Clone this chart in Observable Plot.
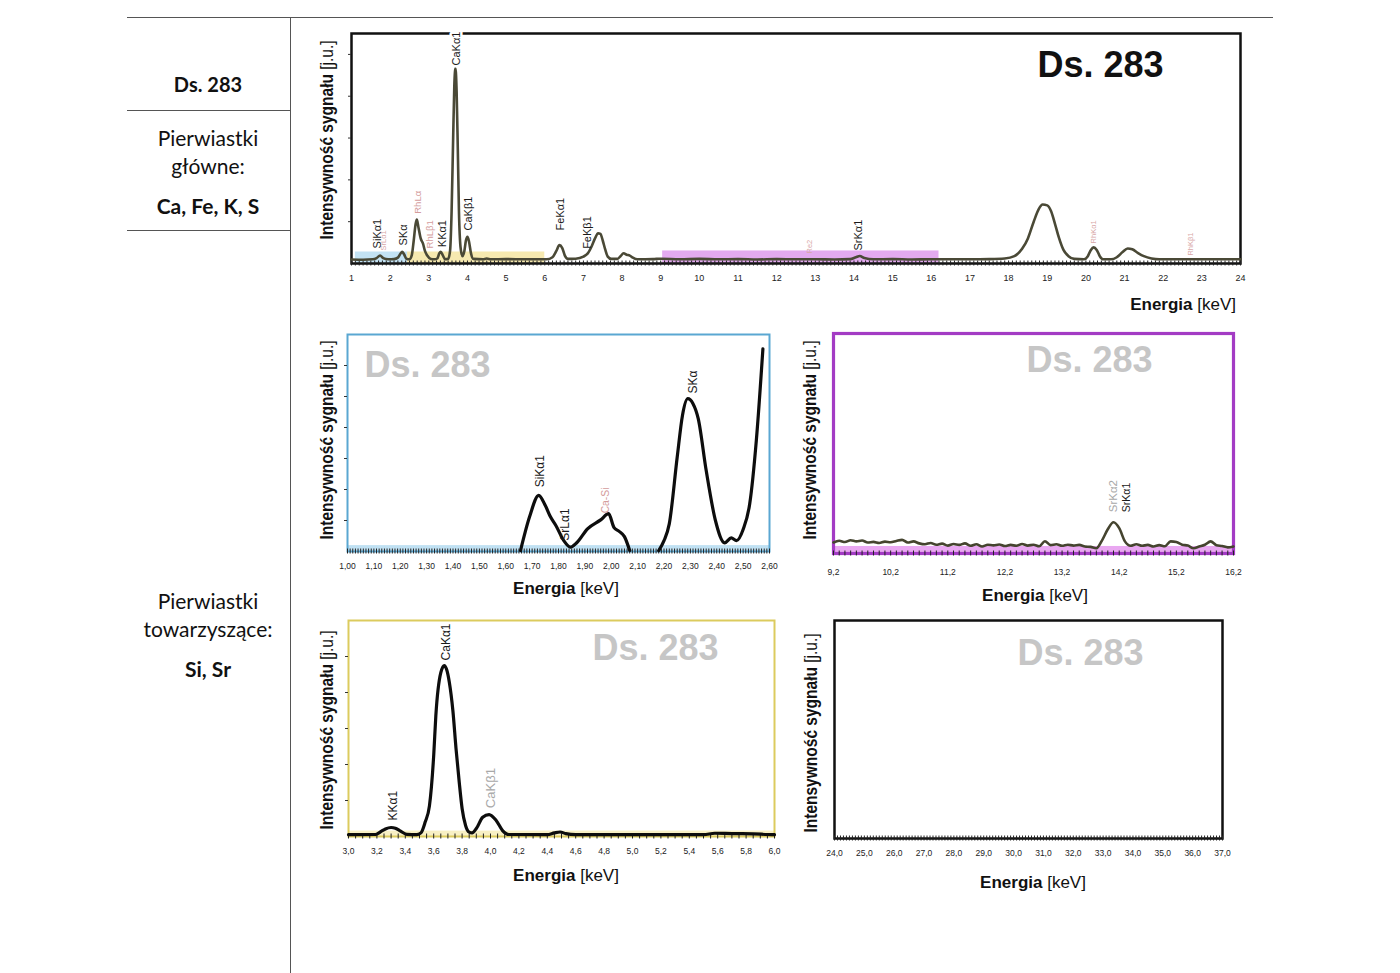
<!DOCTYPE html>
<html>
<head>
<meta charset="utf-8">
<script src="https://cdn.jsdelivr.net/npm/d3@7"></script>
<script src="https://cdn.jsdelivr.net/npm/@observablehq/plot@0.6"></script>
<style>
  body { margin: 0; background: #fff; }
  #page { position: relative; width: 1400px; height: 973px; overflow: hidden; background: #fff;
          font-family: "Liberation Sans", Arial, sans-serif; color: #111; }
  .t { position: absolute; white-space: nowrap; transform: translate(-50%, -50%); }
  .tr { position: absolute; white-space: nowrap; transform: translate(-100%, -50%); }
  .tbl { font-family: Lato, "Open Sans", sans-serif; font-size: 21px; color: #111; }
  .tbl b { font-weight: 700; }
  .rule { position: absolute; background: #555; }
  .ylab { position: absolute; white-space: nowrap; transform: translate(-50%, -50%) rotate(-90deg) scale(0.94, 1.08);
          font-size: 16.5px; color: #111; font-family: "Liberation Sans", Arial, sans-serif; }
  .xlab { font-size: 17px; color: #111; font-family: "Liberation Sans", Arial, sans-serif; }
  svg { position: absolute; overflow: visible; }
</style>
</head>
<body>
<div id="page"></div>
<script>
// ---------------- data ----------------
// Overview spectrum 1–24 keV: [energy keV, intensity a.u.]
const overviewSpectrum = [
  [1.00,1.9],[1.30,1.8],[1.55,2.0],[1.65,2.6],[1.74,3.8],[1.82,2.6],[1.95,2.0],[2.10,2.1],[2.20,2.8],
  [2.27,4.8],[2.31,5.6],[2.36,4.4],[2.42,2.3],[2.50,2.0],[2.56,4.0],[2.61,11],[2.66,19],[2.69,21],
  [2.73,17.5],[2.79,12],[2.85,9.5],[2.90,6],[2.96,3.8],[3.05,2.2],[3.15,2.0],[3.22,2.4],[3.27,4.8],
  [3.31,5.6],[3.36,4.0],[3.42,2.1],[3.50,2.2],[3.55,6],[3.59,25],[3.63,60],[3.66,85],[3.69,93.3],
  [3.72,82],[3.75,55],[3.78,25],[3.82,8],[3.87,3.5],[3.92,6],[3.96,11],[4.00,12.8],[4.04,10.5],
  [4.09,5],[4.15,2.2],[4.40,2.0],[4.50,2.4],[4.60,2.0],[5.00,2.1],[5.50,2.0],[6.05,2.0],[6.20,3.0],
  [6.30,6.0],[6.38,8.8],[6.45,7.5],[6.52,3.8],[6.60,2.2],[6.80,2.3],[7.00,3.3],[7.12,5],[7.22,8.5],
  [7.30,12],[7.38,14.5],[7.44,14.2],[7.50,11],[7.56,7],[7.63,3.3],[7.72,2.2],[7.88,2.2],[7.96,3.5],
  [8.04,4.9],[8.12,4.2],[8.20,3.8],[8.28,2.8],[8.40,2.0],[8.80,2.1],[9.00,2.3],[9.50,2.0],[10.0,2.2],
  [10.5,2.0],[11.0,2.1],[11.5,1.9],[12.0,2.1],[12.5,2.0],[13.0,2.0],[13.5,1.9],[13.9,2.1],[14.05,3.0],
  [14.15,3.6],[14.27,2.6],[14.5,2.0],[15.0,2.1],[15.5,1.9],[16.0,2.0],[16.5,2.0],[17.0,2.0],[17.5,2.1],
  [17.9,2.4],[18.15,3.5],[18.35,7],[18.5,12],[18.65,20],[18.78,26],[18.88,28.2],[19.0,27.8],[19.1,25],
  [19.2,19],[19.3,12.5],[19.42,6.5],[19.55,3.5],[19.7,2.2],[19.95,2.0],[20.05,3.5],[20.13,6.5],
  [20.2,7.7],[20.28,6.5],[20.36,3.5],[20.45,2.0],[20.65,2.0],[20.8,3],[20.95,5.5],[21.08,7.2],
  [21.2,6.8],[21.35,5.0],[21.5,3.5],[21.7,2.4],[21.9,2.0],[22.5,2.0],[23.0,2.0],[23.5,2.0],[24.0,2.0]
];
// energy windows highlighted in the overview: [from keV, to keV, height]
const windowSi = [1.1, 2.45, 5.5];
const windowCa = [2.45, 6.0, 5.5];
const windowSr = [9.05, 16.2, 6.0];

const overviewLabels = [
  {name: "SiKα1", e: 1.68, v: 7.2, kind: "el"},
  {name: "SrLα1", e: 1.84, v: 6.2, kind: "rhs"},
  {name: "SKα", e: 2.35, v: 8.6, kind: "el"},
  {name: "RhLα", e: 2.72, v: 23.8, kind: "rh"},
  {name: "RhLβ1", e: 3.03, v: 7.2, kind: "rh"},
  {name: "KKα1", e: 3.35, v: 7.8, kind: "el"},
  {name: "CaKα1", e: 3.71, v: 94.7, kind: "top"},
  {name: "CaKβ1", e: 4.035, v: 15.8, kind: "el"},
  {name: "FeKα1", e: 6.41, v: 15.8, kind: "el"},
  {name: "FeKβ1", e: 7.10, v: 7.0, kind: "el"},
  {name: "Re2", e: 12.85, v: 4.8, kind: "rhs"},
  {name: "SrKα1", e: 14.12, v: 6.2, kind: "el"},
  {name: "RhKα1", e: 20.2, v: 9.6, kind: "rhs"},
  {name: "RhKβ1", e: 22.71, v: 3.8, kind: "rhs"}
];

// Zoom 1.00–2.60 keV (Si / S region); NaN = curve below the axis
const siSpectrum = [
  [1.656,0.3],[1.69,11.1],[1.725,18.1],[1.75,14.8],[1.77,11.1],[1.79,8.4],[1.82,3.5],[1.845,1.4],
  [1.87,2.9],[1.91,7.3],[1.96,10.2],[1.99,12.2],[2.01,7.8],[2.03,6.5],[2.05,4.8],[2.07,0.3],
  [2.12,NaN],
  [2.18,0.3],[2.20,3.5],[2.22,8.9],[2.25,30.4],[2.27,43.9],[2.29,49.3],[2.31,47.7],[2.33,42.8],
  [2.36,26.1],[2.395,10],[2.43,2.8],[2.455,4.4],[2.475,3.5],[2.50,7.1],[2.525,15.4],[2.55,35.8],
  [2.575,65.4]
];
const siLabels = [
  {name: "SiKα1", e: 1.73, v: 20.7, kind: "el"},
  {name: "SrLα1", e: 1.826, v: 3.5, kind: "el"},
  {name: "Ca-Si", e: 1.98, v: 12.3, kind: "rh"},
  {name: "SKα", e: 2.31, v: 51, kind: "el"}
];

// Zoom 9.2–16.2 keV (Sr region)
const srSpectrum = [
  [9.2,5.0],[9.3,5.8],[9.4,5.2],[9.5,6.0],[9.6,5.5],[9.7,5.9],[9.8,5.0],[9.9,5.3],[10.0,4.8],[10.1,5.4],
  [10.2,5.1],[10.3,5.7],[10.4,6.2],[10.5,5.0],[10.6,5.5],[10.7,4.6],[10.8,4.2],[10.9,4.8],[11.0,4.0],
  [11.1,4.5],[11.2,3.6],[11.3,4.3],[11.4,3.9],[11.5,4.6],[11.6,3.5],[11.7,4.2],[11.8,3.2],[11.9,4.0],
  [12.0,3.7],[12.1,4.1],[12.2,3.4],[12.3,3.9],[12.4,3.5],[12.5,4.3],[12.6,3.6],[12.7,4.0],[12.8,3.3],
  [12.9,5.6],[13.0,3.8],[13.1,4.2],[13.2,3.5],[13.3,4.0],[13.4,3.6],[13.5,3.9],[13.6,3.2],[13.7,3.0],
  [13.8,2.4],[13.9,6.0],[14.0,11.0],[14.1,14.2],[14.2,11.5],[14.3,5.5],[14.4,3.5],[14.5,4.2],[14.6,3.5],
  [14.7,3.9],[14.8,3.2],[14.9,3.8],[15.0,3.3],[15.1,5.5],[15.2,5.2],[15.3,4.0],[15.4,3.6],[15.5,2.4],
  [15.6,3.2],[15.7,4.0],[15.8,5.5],[15.9,3.8],[16.0,3.4],[16.1,2.8],[16.2,3.2]
];
const srLabels = [
  {name: "SrKα2", e: 14.1, v: 18.8, kind: "faint"},
  {name: "SrKα1", e: 14.33, v: 18.8, kind: "el"}
];

// Zoom 3.0–6.0 keV (K / Ca region)
const caSpectrum = [
  [3.00,1],[3.19,1.1],[3.23,2.8],[3.26,4.2],[3.30,5],[3.33,4.6],[3.36,3.3],[3.41,1.2],[3.48,1],[3.51,2],
  [3.54,8],[3.57,17],[3.60,45],[3.615,67],[3.65,91],[3.675,95],[3.69,93],[3.71,85.7],[3.735,70],
  [3.757,49],[3.78,30],[3.80,15.6],[3.825,6],[3.85,2.4],[3.87,2],[3.90,4.4],[3.945,10.7],[3.99,12.2],
  [4.04,8.9],[4.085,3.3],[4.13,1.1],[4.40,1],[4.45,2],[4.49,2.5],[4.53,1.6],[4.60,1],[5.50,1],
  [5.58,1.8],[5.70,1.6],[5.85,1.5],[5.95,1.1],[6.00,1]
];
const caLabels = [
  {name: "KKα1", e: 3.315, v: 8.9, kind: "el"},
  {name: "CaKα1", e: 3.69, v: 97.8, kind: "el"},
  {name: "CaKβ1", e: 4.005, v: 15.7, kind: "faint"}
];

const sampleName = "Ds. 283";
const mainElements = "Ca, Fe, K, S";
const traceElements = "Si, Sr";
const yTitle = ["Intensywność sygnału", "[j.u.]"];
const xTitle = ["Energia", "[keV]"];

// ---------------- layout helpers ----------------
const page = document.getElementById("page");
function div(cls, html, x, y, extra) {
  const d = document.createElement("div");
  d.className = cls;
  d.innerHTML = html;
  d.style.left = x + "px";
  d.style.top = y + "px";
  if (extra) Object.assign(d.style, extra);
  page.append(d);
  return d;
}
function rule(x, y, w, h) {
  const d = document.createElement("div");
  d.className = "rule";
  Object.assign(d.style, {left: x + "px", top: y + "px", width: w + "px", height: h + "px"});
  page.append(d);
}

// table lines and texts
rule(127, 17, 1146, 1);
rule(290, 17, 1, 956);
rule(127, 110, 163, 1);
rule(127, 230, 163, 1);
div("t tbl", `<b>${sampleName}</b>`, 208, 84, {fontSize: "20px"});
div("t tbl", "Pierwiastki", 208, 137);
div("t tbl", "główne:", 208, 165);
div("t tbl", `<b>${mainElements}</b>`, 208, 205);
div("t tbl", "Pierwiastki", 208, 600);
div("t tbl", "towarzyszące:", 208, 628);
div("t tbl", `<b>${traceElements}</b>`, 208, 668);

const yHtml = `<b>${yTitle[0]}</b> ${yTitle[1]}`;
const xHtml = `<b>${xTitle[0]}</b> ${xTitle[1]}`;

const labelStyle = {
  el:    {fill: "#1a1a1a", size: 11},
  top:   {fill: "#1a1a1a", size: 11},
  rh:    {fill: "#d49c9c", size: 9.5},
  rhs:   {fill: "#d8a8a8", size: 7.5},
  faint: {fill: "#a8a8a8", size: 12}
};

function chart(cfg) {
  const mL = 24, mR = 24, mT = 16, mB = 34;
  const fw = cfg.fx1 - cfg.fx0, fh = cfg.fy1 - cfg.fy0;
  const [y0, y1] = cfg.yDomain;
  const pxU = fh / (y1 - y0);
  const marks = [];

  for (const b of (cfg.bands || [])) {
    marks.push(Plot.rect([b.w], {x1: d => d[0], x2: d => d[1], y1: () => y0, y2: d => d[2], fill: b.fill}));
  }
  marks.push(Plot.frame({stroke: cfg.frameColor, strokeWidth: cfg.frameWidth}));
  // minor ticks crossing the baseline
  marks.push(Plot.ruleX(cfg.minor, {x: d => d, y1: () => y0 - 2.5 / pxU, y2: () => y0 + 2.5 / pxU,
                                    stroke: "#222", strokeWidth: 1}));
  if (cfg.yTicks) {
    marks.push(Plot.axisY({ticks: cfg.yTicks, tickSize: 3, tickFormat: () => "", label: null, stroke: "#333"}));
  }
  marks.push(Plot.axisX({ticks: cfg.major, tickFormat: cfg.fmt, tickSize: 0, tickPadding: cfg.pad,
                         fontSize: cfg.tickFont, fill: "#222", label: null}));
  if (cfg.data) {
    marks.push(Plot.line(cfg.data, {x: d => d[0], y: d => d[1], stroke: cfg.lineColor,
                                    strokeWidth: cfg.lineWidth, curve: "monotone-x"}));
  }
  for (const kind of Object.keys(labelStyle)) {
    const ls = (cfg.labels || []).filter(d => d.kind === kind);
    if (!ls.length) continue;
    const st = labelStyle[kind];
    marks.push(Plot.text(ls, {x: d => d.e, y: d => d.v, text: d => d.name, rotate: -90, textAnchor: "start",
      fill: st.fill, fontSize: cfg.labelSize ? cfg.labelSize * st.size / 11 : st.size,
      stroke: kind === "top" ? "white" : null, strokeWidth: kind === "top" ? 5 : null}));
  }
  marks.push(Plot.text([sampleName], {frameAnchor: "top-left", dx: cfg.wm[0], dy: cfg.wm[1],
    text: d => d, textAnchor: "middle", lineAnchor: "middle", fontSize: 36, fontWeight: "bold",
    fill: cfg.wmColor}));

  const svg = Plot.plot({
    width: fw + mL + mR, height: fh + mT + mB,
    marginLeft: mL, marginRight: mR, marginTop: mT, marginBottom: mB,
    x: {domain: cfg.xDomain},
    y: {domain: cfg.yDomain, axis: cfg.yTicks ? undefined : null},
    style: {fontFamily: "'Liberation Sans', Arial, sans-serif", background: "transparent", overflow: "visible"},
    marks
  });
  svg.style.left = (cfg.fx0 - mL) + "px";
  svg.style.top = (cfg.fy0 - mT) + "px";
  page.append(svg);
}

const comma = k => d => d.toFixed(k).replace(".", ",");

// overview
chart({
  fx0: 351, fx1: 1240, fy0: 33, fy1: 263, xDomain: [1, 24], yDomain: [0, 110],
  frameColor: "#111", frameWidth: 2.5, data: overviewSpectrum, lineColor: "#4a4936", lineWidth: 2.6,
  bands: [{w: windowSi, fill: "#c3e2f3"}, {w: windowCa, fill: "#f6e9b0"}, {w: windowSr, fill: "#e3aaef"}],
  major: d3.range(1, 25), fmt: d => String(d), pad: 11, tickFont: 9,
  minor: d3.range(1, 24.001, 0.1), yTicks: [20, 40, 60, 80, 100],
  labels: overviewLabels, wm: [749, 32], wmColor: "#111"
});
// Si window
chart({
  fx0: 347, fx1: 769, fy0: 334, fy1: 551, xDomain: [1.0, 2.6], yDomain: [0, 70],
  frameColor: "#5aa7d2", frameWidth: 2, data: siSpectrum, lineColor: "#0d0d0d", lineWidth: 3.2,
  bands: [{w: [1.0, 2.6, 1.9], fill: "#c0e1f3"}],
  major: d3.range(0, 17).map(i => 1 + i / 10), fmt: comma(2), pad: 11, tickFont: 8.5,
  minor: d3.range(0, 161).map(i => 1 + i / 100), yTicks: [10, 20, 30, 40, 50, 60],
  labels: siLabels, labelSize: 12, wm: [80, 31], wmColor: "#c6c6c6"
});
// Sr window
chart({
  fx0: 833, fx1: 1233, fy0: 333, fy1: 553, xDomain: [9.2, 16.2], yDomain: [0, 100],
  frameColor: "#a33bc4", frameWidth: 3.2, data: srSpectrum, lineColor: "#45442f", lineWidth: 2.6,
  bands: [{w: [9.2, 16.2, 3.2], fill: "#e9a7f1"}],
  major: d3.range(0, 8).map(i => 9.2 + i), fmt: comma(1), pad: 15, tickFont: 8.5,
  minor: d3.range(0, 71).map(i => 9.2 + i / 10), yTicks: null,
  labels: srLabels, labelSize: 10.5, wm: [256, 27], wmColor: "#c6c6c6"
});
// Ca window
chart({
  fx0: 348, fx1: 774, fy0: 620, fy1: 836, xDomain: [3.0, 6.0], yDomain: [0, 120],
  frameColor: "#dccb5e", frameWidth: 2, data: caSpectrum, lineColor: "#0d0d0d", lineWidth: 3.2,
  bands: [{w: [3.0, 6.0, 3.0], fill: "#f8f0c4"}],
  major: d3.range(0, 16).map(i => 3 + i / 5), fmt: comma(1), pad: 11, tickFont: 8.5,
  minor: d3.range(0, 61).map(i => 3 + i / 20), yTicks: [20, 40, 60, 80, 100],
  labels: caLabels, labelSize: 12, wm: [307, 28], wmColor: "#c6c6c6"
});
// 24–37 keV window (empty)
chart({
  fx0: 834, fx1: 1222, fy0: 620, fy1: 838, xDomain: [24, 37], yDomain: [0, 100],
  frameColor: "#111", frameWidth: 2.5, data: null,
  major: d3.range(24, 38), fmt: comma(1), pad: 11, tickFont: 8.5,
  minor: d3.range(0, 131).map(i => 24 + i / 10), yTicks: null,
  labels: [], wm: [246, 33], wmColor: "#c6c6c6"
});

// axis titles
div("ylab", yHtml, 327, 140);
div("ylab", yHtml, 327, 440);
div("ylab", yHtml, 810, 440);
div("ylab", yHtml, 327, 730);
div("ylab", yHtml, 811, 733);
div("tr xlab", xHtml, 1236, 305);
div("t xlab", xHtml, 566, 589);
div("t xlab", xHtml, 1035, 596);
div("t xlab", xHtml, 566, 876);
div("t xlab", xHtml, 1033, 883);
</script>
</body>
</html>
